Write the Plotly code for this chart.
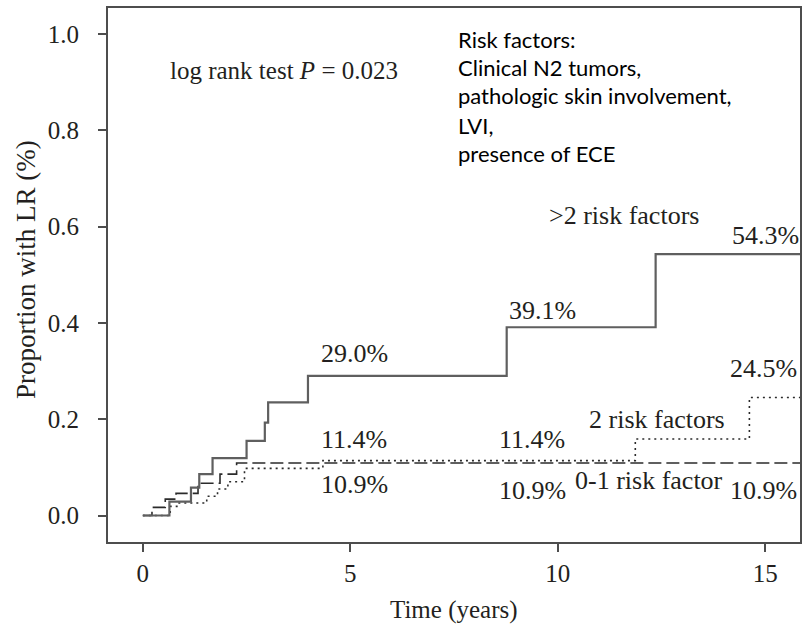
import plotly.graph_objects as go

# ---- data ----
gt2_x = [0, 0.64, 1.16, 1.36, 1.68, 2.5, 2.94, 3.02, 3.98, 8.77, 12.36, 15.9]
gt2_y = [0, 0.029, 0.058, 0.086, 0.119, 0.155, 0.193, 0.235, 0.290, 0.391, 0.543, 0.543]

two_x = [0, 0.66, 0.82, 1.54, 1.8, 2.05, 2.45, 4.34, 11.87, 14.62, 15.9]
two_y = [0, 0.019, 0.026, 0.040, 0.055, 0.070, 0.098, 0.114, 0.159, 0.245, 0.245]

low_x = [0, 0.22, 0.54, 0.80, 1.33, 1.86, 2.26, 15.9]
low_y = [0, 0.017, 0.034, 0.046, 0.067, 0.086, 0.109, 0.109]

x_ticks = [0, 5, 10, 15]
y_ticks = [0.0, 0.2, 0.4, 0.6, 0.8, 1.0]

# curve labels: (text, x, y)
labels = [
    ("29.0%", 5.10, 0.336),
    ("39.1%", 9.63, 0.425),
    (">2 risk factors", 11.59, 0.624),
    ("54.3%", 15.0, 0.582),
    ("24.5%", 14.96, 0.306),
    ("2 risk factors", 12.39, 0.199),
    ("11.4%", 5.10, 0.157),
    ("11.4%", 9.38, 0.157),
    ("10.9%", 5.10, 0.064),
    ("10.9%", 9.38, 0.053),
    ("0-1 risk factor", 12.20, 0.072),
    ("10.9%", 14.96, 0.053),
]

risk_lines = [
    "Risk factors:",
    "Clinical N2 tumors,",
    "pathologic skin involvement,",
    "LVI,",
    "presence of ECE",
]
risk_y = [0.989, 0.931, 0.873, 0.810, 0.751]

SERIF = "Liberation Serif"
TXT = "#231f20"

fig = go.Figure()
fig.add_trace(go.Scatter(x=low_x, y=low_y, mode="lines", line_shape="hv",
                         line=dict(color="#2b2b2b", width=1.6, dash="13px,5px"),
                         showlegend=False, hoverinfo="skip"))
fig.add_trace(go.Scatter(x=two_x, y=two_y, mode="lines", line_shape="hv",
                         line=dict(color="#2b2b2b", width=1.6, dash="2px,4px"),
                         showlegend=False, hoverinfo="skip"))
fig.add_trace(go.Scatter(x=gt2_x, y=gt2_y, mode="lines", line_shape="hv",
                         line=dict(color="#5f5f5f", width=2.2),
                         showlegend=False, hoverinfo="skip"))

for t, x, y in labels:
    fig.add_annotation(x=x, y=y, text=t, showarrow=False,
                       xanchor="center", yanchor="middle",
                       font=dict(family=SERIF, size=26, color=TXT))

fig.add_annotation(x=0.61, y=0.925, text="log rank test <i>P</i> = 0.023",
                   showarrow=False, xanchor="left", yanchor="middle",
                   font=dict(family=SERIF, size=25, color=TXT))

for t, y in zip(risk_lines, risk_y):
    fig.add_annotation(x=7.56, y=y, text=t, showarrow=False,
                       xanchor="left", yanchor="middle",
                       font=dict(family="Lato", size=22, color="#000000"))

# axis titles
fig.add_annotation(xref="paper", yref="paper", x=0.5, y=-0.127,
                   text="Time (years)", showarrow=False,
                   xanchor="center", yanchor="middle",
                   font=dict(family=SERIF, size=25, color=TXT))
fig.add_annotation(xref="paper", yref="paper", x=-0.1196, y=0.51,
                   text="Proportion with LR (%)", showarrow=False, textangle=-90,
                   xanchor="center", yanchor="middle",
                   font=dict(family=SERIF, size=27, color=TXT))

axis_common = dict(showline=True, linecolor="#4d4d4d", linewidth=2,
                   ticks="outside", ticklen=8, tickwidth=1.5, tickcolor="#4d4d4d",
                   showgrid=False, zeroline=False,
                   tickfont=dict(family=SERIF, size=25, color=TXT))

fig.update_xaxes(range=[-0.84, 15.84], tickvals=x_ticks,
                 ticktext=[str(v) for v in x_ticks], mirror=True,
                 **axis_common)
fig.update_yaxes(range=[-0.055, 1.054], tickvals=y_ticks,
                 ticktext=[f"{v:.1f}" for v in y_ticks], mirror=True,
                 ticklabelstandoff=14,
                 **axis_common)

fig.update_layout(width=803, height=632, margin=dict(l=108, r=1, t=8, b=90),
                  plot_bgcolor="white", paper_bgcolor="white")

fig.write_html("out.html")
